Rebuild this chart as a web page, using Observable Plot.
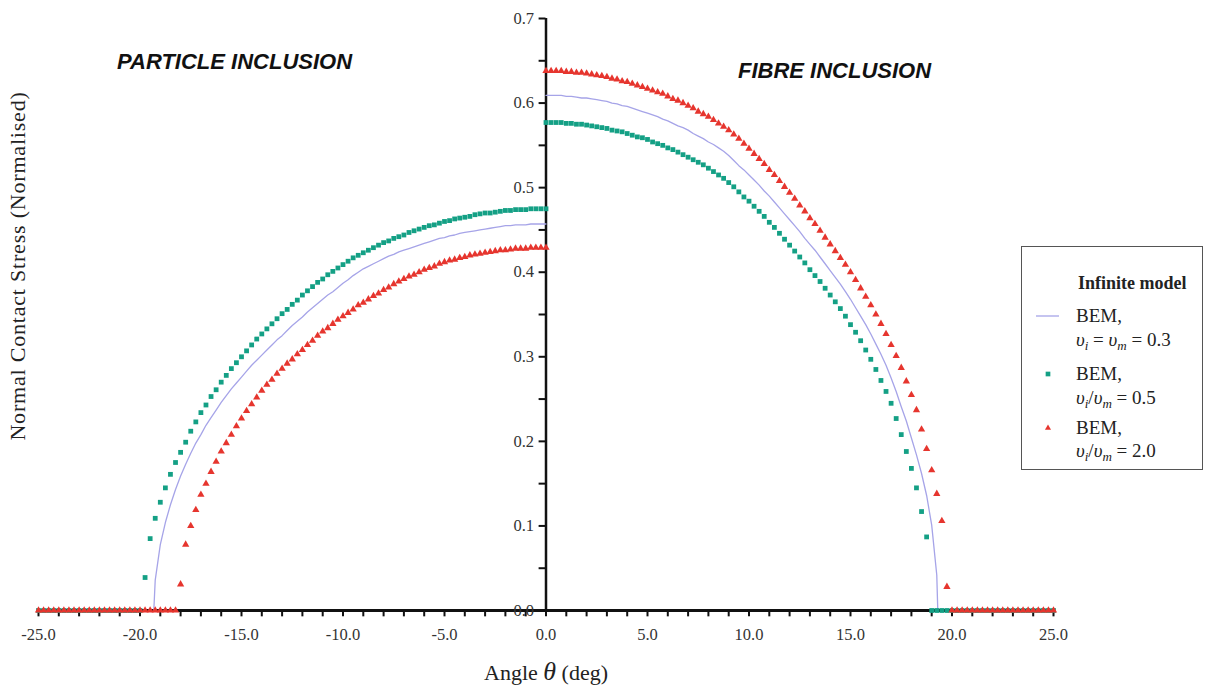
<!DOCTYPE html>
<html>
<head>
<meta charset="utf-8">
<script src="https://cdn.jsdelivr.net/npm/d3@7"></script>
<script src="https://cdn.jsdelivr.net/npm/@observablehq/plot@0.6"></script>
<style>
  body { margin: 0; background: #fff; }
  #fig { position: relative; width: 1208px; height: 688px; overflow: hidden;
         font-family: "Liberation Serif", "Times New Roman", serif; color: #222; }
  #fig svg { position: absolute; left: 0; top: 0; }
  .panel-title { position: absolute; font-family: "Liberation Sans", Arial, sans-serif;
                 font-weight: bold; font-style: italic; font-size: 22px; line-height: 22px;
                 white-space: nowrap; color: #111; }
  .ylabel { position: absolute; left: 18px; top: 266px; white-space: nowrap;
            transform: translate(-50%, -50%) rotate(-90deg);
            font-size: 22px; letter-spacing: 0.8px; }
  .xlabel { position: absolute; left: 546px; top: 672px; white-space: nowrap;
            transform: translate(-50%, -50%); font-size: 22px; }
  .xlabel i { font-size: 26px; }
  .legend { position: absolute; left: 1021px; top: 246px; width: 182px; height: 224px;
            border: 1.5px solid #555; box-sizing: border-box; background: #fff; }
  .legend .row { position: absolute; left: 54px; height: 22px; line-height: 22px;
                 font-size: 19px; white-space: nowrap; }
  .legend .head { left: 56px; font-weight: bold; font-size: 18px; }
  .legend sub { font-size: 13px; vertical-align: -4px; line-height: 0; }
  .legend svg { position: absolute; left: 0; top: 0; }
</style>
</head>
<body>
<div id="fig">
  <div class="panel-title" style="left:117px; top:51px;">PARTICLE INCLUSION</div>
  <div class="panel-title" style="left:738px; top:60px;">FIBRE INCLUSION</div>
  <div class="ylabel">Normal Contact Stress (Normalised)</div>
  <div class="xlabel">Angle <i>θ</i> (deg)</div>
  <div class="legend" id="legend">
    <div class="row head" style="top:25px;">Infinite model</div>
    <div class="row" style="top:58px;">BEM,</div>
    <div class="row" style="top:82px;"><i>υ</i><sub><i>i</i></sub> = <i>υ</i><sub><i>m</i></sub> = 0.3</div>
    <div class="row" style="top:116px;">BEM,</div>
    <div class="row" style="top:140px;"><i>υ</i><sub><i>i</i></sub>/<i>υ</i><sub><i>m</i></sub> = 0.5</div>
    <div class="row" style="top:170px;">BEM,</div>
    <div class="row" style="top:193px;"><i>υ</i><sub><i>i</i></sub>/<i>υ</i><sub><i>m</i></sub> = 2.0</div>
  </div>
</div>
<script>
// Normal contact stress around the inclusion, sampled every 0.25 deg.
const STEP = 0.25;

// Particle inclusion (negative angles), nu_i/nu_m = 0.5, from -25 deg to 0 deg
const particleRatio05 = [
  0,0,0,0,0,0,0,0,0,0,0,0,0,0,0,0,0,0,0,0,0,
  0.039,0.085,0.109,0.128,0.145,0.161,0.175,0.187,0.199,0.212,
  0.223,0.234,0.243,0.253,0.261,0.270,0.278,0.286,0.293,0.300,
  0.307,0.314,0.321,0.327,0.333,0.339,0.345,0.351,0.356,0.362,
  0.367,0.373,0.378,0.383,0.388,0.392,0.397,0.401,0.405,0.409,
  0.413,0.417,0.420,0.423,0.426,0.429,0.432,0.435,0.437,0.440,
  0.442,0.444,0.447,0.449,0.451,0.453,0.455,0.456,0.458,0.460,
  0.461,0.463,0.464,0.465,0.466,0.468,0.469,0.470,0.470,0.471,
  0.472,0.473,0.473,0.474,0.474,0.474,0.475,0.475,0.475,0.475
];
// Particle inclusion, nu_i/nu_m = 2.0, from -25 deg to 0 deg
const particleRatio20 = [
  0,0,0,0,0,0,0,0,0,0,0,0,0,0,0,0,0,0,0,0,0,0,0,0,0,0,0,0,
  0.031,0.078,0.100,0.119,0.137,0.150,0.164,0.176,0.188,0.198,
  0.208,0.218,0.227,0.236,0.244,0.252,0.260,0.267,0.273,0.280,
  0.286,0.292,0.297,0.303,0.308,0.314,0.319,0.325,0.330,0.334,
  0.339,0.344,0.348,0.352,0.356,0.361,0.364,0.368,0.372,0.375,
  0.379,0.382,0.386,0.389,0.392,0.395,0.397,0.400,0.403,0.405,
  0.407,0.410,0.412,0.414,0.415,0.417,0.418,0.420,0.421,0.422,
  0.423,0.424,0.425,0.426,0.426,0.427,0.428,0.428,0.428,0.429,
  0.429,0.429,0.429
];
// Particle inclusion, nu_i = nu_m = 0.3 (continuous curve), from -19.25 deg to 0 deg
const particleEqual = [
  0.036,0.078,0.104,0.125,0.143,0.159,0.173,0.186,0.198,0.208,
  0.219,0.228,0.237,0.246,0.254,0.262,0.269,0.276,0.283,0.290,
  0.296,0.302,0.308,0.314,0.320,0.325,0.331,0.337,0.342,0.347,
  0.353,0.358,0.363,0.368,0.373,0.377,0.382,0.387,0.391,0.396,
  0.400,0.404,0.407,0.410,0.413,0.416,0.419,0.421,0.424,0.426,
  0.428,0.430,0.432,0.434,0.436,0.438,0.440,0.441,0.443,0.444,
  0.446,0.447,0.448,0.449,0.450,0.451,0.452,0.453,0.454,0.455,
  0.455,0.456,0.456,0.456,0.457,0.457,0.457,0.457
];
const particleEqualEdge = [-19.32];

// Fibre inclusion (positive angles), nu_i/nu_m = 0.5, from 0 deg to 25 deg
const fibreRatio05 = [
  0.577,0.577,0.577,0.577,0.576,0.576,0.575,0.575,0.574,0.573,
  0.572,0.571,0.570,0.568,0.567,0.566,0.564,0.562,0.560,0.559,
  0.557,0.554,0.552,0.550,0.547,0.545,0.542,0.539,0.536,0.533,
  0.530,0.527,0.523,0.519,0.515,0.511,0.506,0.501,0.495,0.489,
  0.484,0.478,0.472,0.466,0.459,0.453,0.446,0.439,0.432,0.425,
  0.418,0.411,0.403,0.396,0.389,0.381,0.373,0.365,0.357,0.348,
  0.338,0.329,0.319,0.308,0.297,0.285,0.272,0.259,0.245,0.227,
  0.208,0.188,0.168,0.145,0.117,0.087,
  0,0,0,0,0,0,0,0,0,0,0,0,0,0,0,0,0,0,0,0,0,0,0,0,0
];
// Fibre inclusion, nu_i/nu_m = 2.0, from 0 deg to 25 deg
const fibreRatio20 = [
  0.638,0.638,0.638,0.638,0.637,0.637,0.636,0.636,0.635,0.634,
  0.633,0.632,0.631,0.629,0.628,0.626,0.625,0.623,0.621,0.619,
  0.617,0.615,0.613,0.611,0.608,0.605,0.603,0.600,0.597,0.594,
  0.590,0.587,0.584,0.580,0.576,0.572,0.568,0.563,0.558,0.552,
  0.546,0.540,0.534,0.528,0.521,0.515,0.508,0.501,0.494,0.487,
  0.479,0.472,0.464,0.457,0.449,0.441,0.433,0.425,0.417,0.409,
  0.400,0.391,0.381,0.371,0.361,0.350,0.339,0.327,0.314,0.301,
  0.287,0.271,0.255,0.237,0.214,0.191,0.166,0.138,0.106,0.028,
  0,0,0,0,0,0,0,0,0,0,0,0,0,0,0,0,0,0,0,0,0
];
// Fibre inclusion, nu_i = nu_m = 0.3 (continuous curve), from 0 deg to 19.25 deg
const fibreEqual = [
  0.609,0.609,0.609,0.609,0.608,0.608,0.607,0.606,0.606,0.605,
  0.604,0.603,0.602,0.600,0.599,0.597,0.596,0.594,0.592,0.590,
  0.588,0.586,0.584,0.581,0.579,0.576,0.573,0.571,0.568,0.564,
  0.561,0.558,0.554,0.551,0.547,0.543,0.538,0.532,0.526,0.521,
  0.515,0.509,0.503,0.496,0.490,0.483,0.476,0.469,0.462,0.455,
  0.448,0.440,0.433,0.426,0.418,0.410,0.402,0.394,0.386,0.377,
  0.368,0.358,0.348,0.338,0.327,0.315,0.303,0.290,0.275,0.259,
  0.241,0.224,0.204,0.184,0.162,0.136,0.101,0.042
];
const fibreEqualEdge = [19.3];

// Axis tick labels
const xTickLabels = [-25, -20, -15, -10, -5, 0, 5, 10, 15, 20, 25];
const yTickLabels = [0, 0.1, 0.2, 0.3, 0.4, 0.5, 0.6, 0.7];

const GREEN = "#14a085";
const RED = "#e6352e";
const BLUE = "#a6a4e8";

const series = (start, values) => values.map((v, i) => ({theta: start + i * STEP, stress: v}));

const squares = [...series(-25, particleRatio05), ...series(0, fibreRatio05)];
const triangles = [...series(-25, particleRatio20), ...series(0, fibreRatio20)];
const curveLeft = [...particleEqualEdge.map(t => ({theta: t, stress: 0})), ...series(-19.25, particleEqual)]
  .map(d => ({...d, side: "particle"}));
const curveRight = [...series(0, fibreEqual), ...fibreEqualEdge.map(t => ({theta: t, stress: 0}))]
  .map(d => ({...d, side: "fibre"}));

// minor ticks every degree / every 0.05
const xMinor = d3.range(-25, 25.001, 1);
const yMinor = d3.range(0, 0.7001, 0.05);
const X_TICK_LEN = 0.0075;  // in stress units, below the x axis
const Y_TICK_LEN = 0.34;    // in degrees, left of the y axis

const chart = Plot.plot({
  width: 1208,
  height: 688,
  marginLeft: 38,
  marginRight: 155,
  marginTop: 18,
  marginBottom: 78,
  style: {background: "transparent", fontFamily: '"Liberation Serif", "Times New Roman", serif'},
  x: {domain: [-25, 25], axis: null},
  y: {domain: [0, 0.7], axis: null},
  marks: [
    Plot.ruleX(xMinor, {x: d => d, y1: 0, y2: -X_TICK_LEN, stroke: "#111", strokeWidth: 2}),
    Plot.ruleY(yMinor, {y: d => d, x1: 0, x2: -Y_TICK_LEN, stroke: "#111", strokeWidth: 2}),
    Plot.ruleY([0], {x1: -25, x2: 25, stroke: "#111", strokeWidth: 3}),
    Plot.ruleX([0], {y1: 0, y2: 0.7, stroke: "#111", strokeWidth: 2.5}),
    Plot.text(xTickLabels, {x: d => d, y: 0, text: d => d.toFixed(1), dy: 24,
      fontSize: 16.5, fill: "#333"}),
    Plot.text(yTickLabels, {x: 0, y: d => d, text: d => d.toFixed(1), textAnchor: "end",
      dx: -12, fontSize: 16.5, fill: "#333"}),
    Plot.line([...curveLeft, ...curveRight], {x: "theta", y: "stress", z: "side",
      stroke: BLUE, strokeWidth: 1.3}),
    Plot.dot(squares, {x: "theta", y: "stress", symbol: "square", r: 2.7, fill: GREEN}),
    Plot.dot(triangles, {x: "theta", y: "stress", symbol: "triangle", r: 2.7, fill: RED})
  ]
});
document.getElementById("fig").prepend(chart);

// legend keys drawn with the same colours and symbols
const key = d3.select("#legend").append("svg").attr("width", 180).attr("height", 220);
key.append("line").attr("x1", 14).attr("x2", 37).attr("y1", 69).attr("y2", 69)
  .attr("stroke", BLUE).attr("stroke-width", 1.3);
key.append("path").attr("transform", "translate(26,127)")
  .attr("d", d3.symbol(d3.symbolSquare, 22)()).attr("fill", GREEN);
key.append("path").attr("transform", "translate(26,181)")
  .attr("d", d3.symbol(d3.symbolTriangle, 16)()).attr("fill", RED);
</script>
</body>
</html>
